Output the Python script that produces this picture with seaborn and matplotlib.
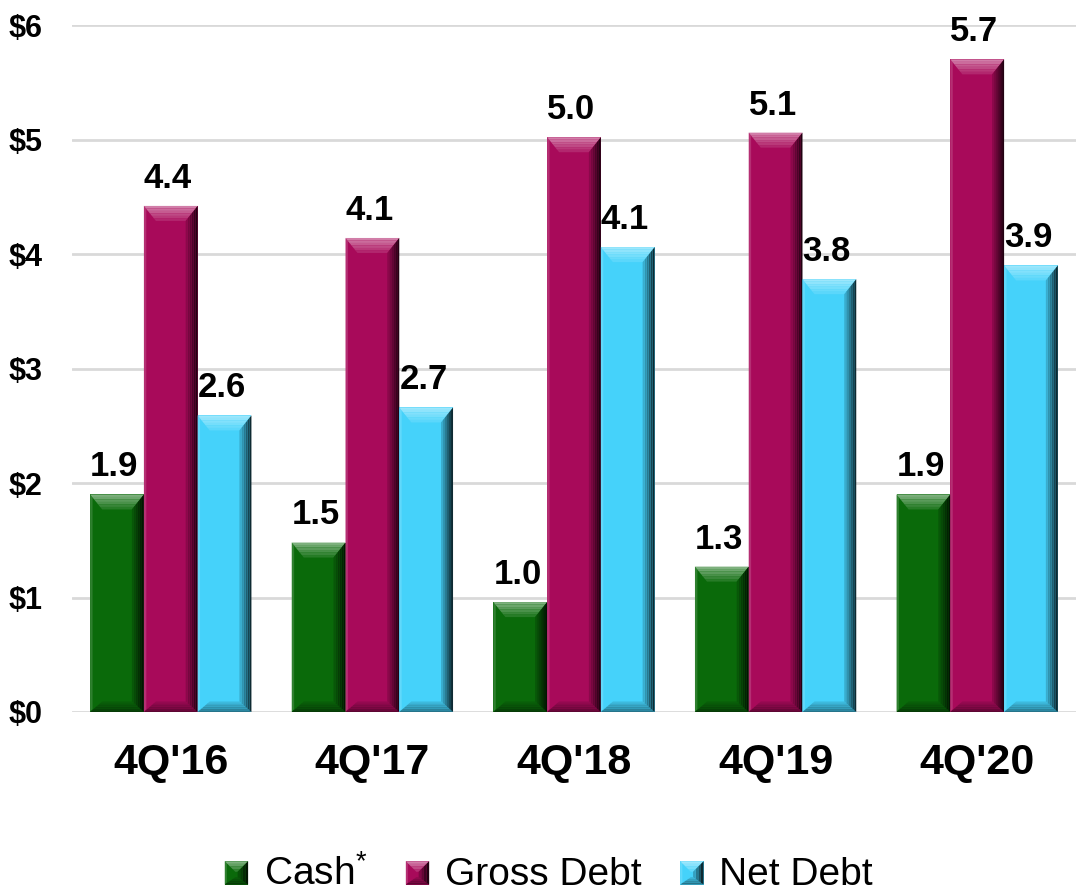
import numpy as np
import pandas as pd
import matplotlib
matplotlib.use("Agg")
import matplotlib.pyplot as plt
import matplotlib.colors as mcolors
from matplotlib.patches import Polygon
from matplotlib.legend_handler import HandlerBase
import seaborn as sns

# ---- data (USD billions) ----
quarters = ["4Q'16", "4Q'17", "4Q'18", "4Q'19", "4Q'20"]
cash = [1.90, 1.48, 0.96, 1.27, 1.90]
gross_debt = [4.42, 4.14, 5.02, 5.06, 5.70]
net_debt = [2.59, 2.66, 4.06, 3.78, 3.90]
series_names = ["Cash", "Gross Debt", "Net Debt"]
legend_labels = ["Cash$^{*}$", "Gross Debt", "Net Debt"]
series_colors = ["#0a6a0a", "#a80a5a", "#45d2fa"]
y_ticks = [0, 1, 2, 3, 4, 5, 6]
y_tick_labels = ["$0", "$1", "$2", "$3", "$4", "$5", "$6"]

df = pd.DataFrame({
    "quarter": quarters * 3,
    "series": [s for s in series_names for _ in quarters],
    "value": cash + gross_debt + net_debt,
})

sns.set_theme(style="white")
plt.rcParams["font.family"] = ["Liberation Sans", "DejaVu Sans"]
plt.rcParams["text.color"] = "black"
plt.rcParams["mathtext.fontset"] = "custom"
plt.rcParams["mathtext.rm"] = "Liberation Sans"
plt.rcParams["mathtext.it"] = "Liberation Sans"
plt.rcParams["mathtext.bf"] = "Liberation Sans:bold"

W, H = 1076, 894
fig = plt.figure(figsize=(W / 100, H / 100), dpi=100)
ax = fig.add_axes([72 / W, 1 - 712 / H, 1 - 72 / W, (712 - 25) / H])

sns.barplot(data=df, x="quarter", y="value", hue="series",
            order=quarters, hue_order=series_names,
            palette=series_colors, width=0.8, saturation=1,
            edgecolor="none", linewidth=0, ax=ax, legend=False, zorder=3)

ax.set_xlim(-0.49, 4.49)
ax.set_ylim(0, 6)
ax.set_yticks(y_ticks)
ax.set_yticklabels(y_tick_labels)
ax.set_xlabel("")
ax.set_ylabel("")
for s in ax.spines.values():
    s.set_visible(False)
ax.yaxis.grid(True, color="#d9d9d9", linewidth=2, zorder=0)
ax.xaxis.grid(False)
ax.set_axisbelow(True)
ax.tick_params(axis="y", length=0, pad=21, labelsize=22)
ax.tick_params(axis="x", length=0, pad=22, labelsize=31)
for lab in ax.get_yticklabels() + ax.get_xticklabels():
    lab.set_fontweight("bold")
    lab.set_color("black")

# pixel -> data scale for bevel facets
ax_w_px = W * ax.get_position().width
ax_h_px = H * ax.get_position().height
dx_px = (ax.get_xlim()[1] - ax.get_xlim()[0]) / ax_w_px
dy_px = (ax.get_ylim()[1] - ax.get_ylim()[0]) / ax_h_px


def shade(rgb, f):
    rgb = np.array(rgb)
    if f >= 0:
        return tuple(rgb + (1 - rgb) * f)
    return tuple(rgb * (1 + f))


def bevel_faces(x0, y0, w, h, color, bx, by, n=6):
    base = mcolors.to_rgb(color)
    bx = min(bx, w / 2)
    by = min(by, h / 2)
    x1, y1 = x0 + w, y0 + h
    faces = []
    # left edge, slightly lighter
    faces.append(([(x0, y0), (x0, y1), (x0 + bx * 0.2, y1 - by * 0.2),
                   (x0 + bx * 0.2, y0 + by * 0.2)], shade(base, 0.15)))
    # bottom band, darker toward the base line
    for i in range(n):
        a, b = i / n, (i + 1) / n
        faces.append(([(x0 + bx * a, y0 + by * 0.7 * a), (x1 - bx * a, y0 + by * 0.7 * a),
                       (x1 - bx * b, y0 + by * 0.7 * b), (x0 + bx * b, y0 + by * 0.7 * b)],
                      shade(base, -0.45 + 0.4 * a)))
    # top facet, light at the rim fading into the face
    for i in range(n):
        a, b = i / n, (i + 1) / n
        faces.append(([(x0 + bx * a, y1 - by * a), (x1 - bx * a, y1 - by * a),
                       (x1 - bx * b, y1 - by * b), (x0 + bx * b, y1 - by * b)],
                      shade(base, 0.42 * (1 - a) + 0.05)))
    # right facet, dark gradient toward the edge
    for i in range(n):
        a, b = i / n, (i + 1) / n
        faces.append(([(x1 - bx * a, y1 - by * a), (x1 - bx * a, y0 + by * 0.7 * a),
                       (x1 - bx * b, y0 + by * 0.7 * b), (x1 - bx * b, y1 - by * b)],
                      shade(base, -0.8 + 0.75 * a)))
    return faces


bx_data = 12 * dx_px
by_data = 15 * dy_px
all_series = [cash, gross_debt, net_debt]
for container, values in zip(ax.containers, all_series):
    for bar, val in zip(container.patches, values):
        x0, w = bar.get_x(), bar.get_width()
        y0, h = bar.get_y(), bar.get_height()
        for pts, c in bevel_faces(x0, y0, w, h, bar.get_facecolor(), bx_data, by_data):
            ax.add_patch(Polygon(pts, closed=True, facecolor=c, edgecolor="none",
                                 zorder=4))
        ax.annotate(f"{val:.1f}", xy=(x0 + w / 2, y0 + h), xytext=(-2, 13),
                    textcoords="offset points", ha="center", va="baseline",
                    fontsize=25, fontweight="bold", color="black",
                    annotation_clip=False, zorder=5)


class BevelHandler(HandlerBase):
    def create_artists(self, legend, orig_handle, xdescent, ydescent,
                       width, height, fontsize, trans):
        s = min(width, height)
        x0, y0 = -xdescent + (width - s) / 2, -ydescent + (height - s) / 2 - 1
        arts = [Polygon([(x0, y0), (x0 + s, y0), (x0 + s, y0 + s), (x0, y0 + s)],
                        facecolor=orig_handle.get_facecolor(), edgecolor="none",
                        transform=trans)]
        b = s * 0.45
        for pts, c in bevel_faces(x0, y0, s, s, orig_handle.get_facecolor(), b, b, n=4):
            arts.append(Polygon(pts, closed=True, facecolor=c, edgecolor="none",
                                transform=trans))
        return arts


handles = [plt.Rectangle((0, 0), 1, 1, facecolor=c) for c in series_colors]
leg = fig.legend(handles, legend_labels, loc="center", bbox_to_anchor=(0.51, 0.022),
                 ncol=3, frameon=False, fontsize=28, handlelength=0.6,
                 handleheight=0.6, handletextpad=0.4, columnspacing=1.0,
                 borderpad=0.1, handler_map={plt.Rectangle: BevelHandler()})
for t in leg.get_texts():
    t.set_color("black")

fig.savefig("out.png", dpi=100)
